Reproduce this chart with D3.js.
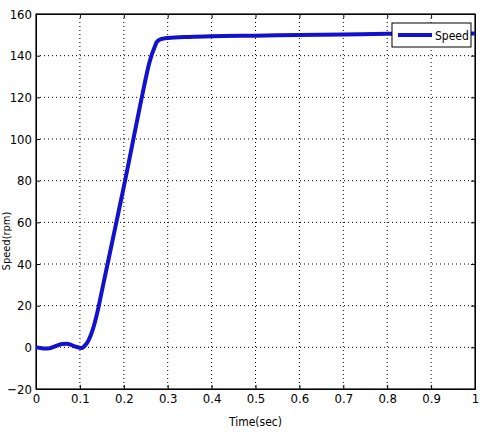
<!DOCTYPE html>
<html>
<head>
<meta charset="utf-8">
<script src="https://cdn.jsdelivr.net/npm/d3@7"></script>
<style>
  body { margin: 0; background: #fff; }
  text { font-family: "Liberation Sans Narrow", "DejaVu Sans Condensed", "Liberation Sans", Arial, sans-serif; fill: #000; }
</style>
</head>
<body>
<script>
// speed response
const time = [0, 0.01, 0.02, 0.03, 0.04, 0.05, 0.06, 0.07, 0.08, 0.09, 0.10, 0.105, 0.11, 0.12, 0.13, 0.14, 0.15, 0.16, 0.18, 0.20, 0.22, 0.24, 0.26, 0.27, 0.275, 0.28, 0.29, 0.30, 0.35, 0.4, 0.5, 0.6, 0.7, 0.8, 0.9, 1.0];
const speed = [0, -0.3, -0.6, -0.5, 0.2, 1.0, 1.6, 1.7, 1.2, 0.3, -0.2, -0.3, 0.5, 3.5, 9, 17, 27, 37, 57, 77, 98, 119, 138, 144, 146.5, 147.5, 148.2, 148.5, 149, 149.3, 149.6, 149.9, 150.2, 150.5, 150.6, 150.6];
const xTicks = [0, 0.1, 0.2, 0.3, 0.4, 0.5, 0.6, 0.7, 0.8, 0.9, 1];
const yTicks = [-20, 0, 20, 40, 60, 80, 100, 120, 140, 160];
const seriesName = "Speed";

const width = 483;
const height = 432;
const margin = { left: 36, right: 8, top: 14, bottom: 43 };

const x = d3.scaleLinear().domain([0, 1]).range([margin.left, width - margin.right]);
const y = d3.scaleLinear().domain([-20, 160]).range([height - margin.bottom, margin.top]);

const svg = d3.select("body").append("svg")
    .attr("width", width)
    .attr("height", height);

// GRID
svg.append("g").selectAll("line.vg")
    .data(xTicks.slice(1, -1))
    .enter().append("line")
    .attr("x1", d => x(d)).attr("x2", d => x(d))
    .attr("y1", y(160)).attr("y2", y(-20))
    .attr("stroke", "#000").attr("stroke-width", 1)
    .attr("stroke-dasharray", "1,3");
svg.append("g").selectAll("line.hg")
    .data(yTicks.slice(1, -1))
    .enter().append("line")
    .attr("x1", x(0)).attr("x2", x(1))
    .attr("y1", d => y(d)).attr("y2", d => y(d))
    .attr("stroke", "#000").attr("stroke-width", 1)
    .attr("stroke-dasharray", "1,3");

// AXES (ticks point inward, like matlab)
const fmtX = d => d === 0 ? "0" : d === 1 ? "1" : d3.format(".1f")(d);
const xAxis = d3.axisBottom(x).tickValues(xTicks).tickFormat(fmtX).tickSizeInner(-4).tickSizeOuter(0).tickPadding(5);
const yAxis = d3.axisLeft(y).tickValues(yTicks).tickSizeInner(-4).tickSizeOuter(0).tickPadding(4);
const xTop = d3.axisTop(x).tickValues(xTicks).tickFormat("").tickSizeInner(-4).tickSizeOuter(0);
const yRight = d3.axisRight(y).tickValues(yTicks).tickFormat("").tickSizeInner(-4).tickSizeOuter(0);

svg.append("g").attr("transform", `translate(0, ${y(-20)})`).call(xAxis);
svg.append("g").attr("transform", `translate(${x(0)}, 0)`).call(yAxis);
svg.append("g").attr("transform", `translate(0, ${y(160)})`).call(xTop);
svg.append("g").attr("transform", `translate(${x(1)}, 0)`).call(yRight);
svg.selectAll(".tick text").attr("font-size", 13).attr("fill", "#111").style("font-family", null);
svg.selectAll(".domain, .tick line").attr("stroke", "#000");

svg.append("rect")
    .attr("x", x(0)).attr("y", y(160))
    .attr("width", x(1) - x(0)).attr("height", y(-20) - y(160))
    .attr("fill", "none").attr("stroke", "#000").attr("stroke-width", 1.2);

// LINE
const pts = time.map((t, i) => [t, speed[i]]);
svg.append("path")
    .datum(pts)
    .attr("d", d3.line().x(d => x(d[0])).y(d => y(d[1])).curve(d3.curveMonotoneX))
    .attr("fill", "none")
    .attr("stroke", "#1212cc")
    .attr("stroke-width", 4)
    .attr("stroke-linejoin", "round");

// LABELS
svg.append("text")
    .attr("x", (x(0) + x(1)) / 2).attr("y", 426)
    .attr("text-anchor", "middle").attr("font-size", 12)
    .text("Time(sec)");
svg.append("text")
    .attr("transform", "translate(10, 241) rotate(-90)")
    .attr("text-anchor", "middle").attr("font-size", 11)
    .text("Speed(rpm)");

// LEGEND
const lg = svg.append("g");
lg.append("clipPath").attr("id", "lgclip")
    .append("rect").attr("x", 392).attr("y", 23).attr("width", 79).attr("height", 24);
lg.append("rect")
    .attr("x", 392).attr("y", 23).attr("width", 79).attr("height", 24)
    .attr("fill", "#fff").attr("stroke", "#000").attr("stroke-width", 1);
lg.append("line")
    .attr("x1", 398).attr("x2", 432).attr("y1", 35).attr("y2", 35)
    .attr("stroke", "#1212cc").attr("stroke-width", 4);
lg.append("text")
    .attr("x", 435).attr("y", 40).attr("font-size", 12)
    .attr("clip-path", "url(#lgclip)")
    .text(seriesName);
</script>
</body>
</html>
